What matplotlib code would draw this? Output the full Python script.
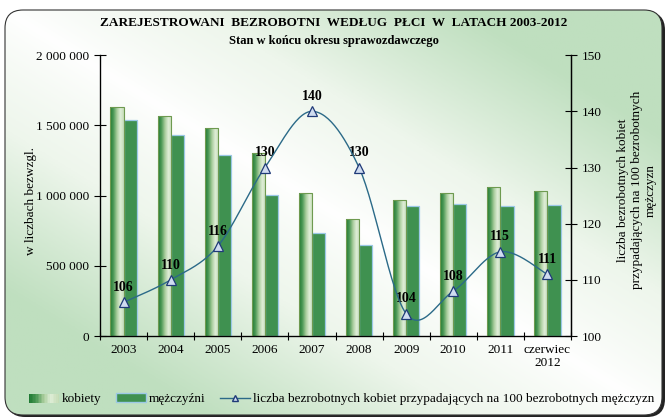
import numpy as np
import matplotlib.pyplot as plt
from matplotlib.patches import FancyBboxPatch, Rectangle
from matplotlib.lines import Line2D
from matplotlib.legend_handler import HandlerBase
from matplotlib.ticker import FuncFormatter
from matplotlib.colors import LinearSegmentedColormap

plt.rcParams['font.family'] = ['Liberation Serif', 'DejaVu Serif']

# Dane
lata = ['2003', '2004', '2005', '2006', '2007', '2008', '2009', '2010', '2011', 'czerwiec\n2012']
kobiety = [1630000, 1566000, 1480000, 1302000, 1018000, 833000, 968000, 1018000, 1060000, 1032000]
mezczyzni = [1537000, 1430000, 1288000, 1003000, 733000, 648000, 925000, 940000, 925000, 932000]
wskaznik = [106, 110, 116, 130, 140, 130, 104, 108, 115, 111]

grad_cmap = LinearSegmentedColormap.from_list('kob', ['#1f7a33', '#4f9a58', '#a9cd9c', '#dfeed8', '#c5dcb6'])
men_color = '#3f9150'
men_edge = '#9cc8e6'
line_color = '#2b6a88'


def catmull_rom(x, y, n=30):
    # wygladzenie linii (jak "wygladzona linia" w Excelu)
    px = np.concatenate([[x[0]], x, [x[-1]]])
    py = np.concatenate([[y[0]], y, [y[-1]]])
    xs, ys = [], []
    t = np.linspace(0, 1, n)
    for i in range(1, len(px) - 2):
        p0, p1, p2, p3 = [np.array([px[j], py[j]], dtype=float) for j in range(i - 1, i + 3)]
        c1 = p1 + (p2 - p0) / 6
        c2 = p2 - (p3 - p1) / 6
        for tt in t:
            b = ((1 - tt) ** 3) * p1 + 3 * ((1 - tt) ** 2) * tt * c1 + 3 * (1 - tt) * tt ** 2 * c2 + tt ** 3 * p2
            xs.append(b[0])
            ys.append(b[1])
    return np.array(xs), np.array(ys)


fig = plt.figure(figsize=(6.67, 4.18), dpi=100)

# tlo z gradientem i zaokraglona ramka
bg = fig.add_axes([0, 0, 1, 1])
bg.set_xlim(0, 667)
bg.set_ylim(0, 418)
bg.axis('off')
gx, gy = np.meshgrid(np.linspace(0, 1, 300), np.linspace(0, 1, 200))
u = np.abs((gx - 0.5) * 1.0 - (gy - 0.5) * 1.0)
u = np.clip(u / 0.7, 0, 1) ** 0.8
bg_cmap = LinearSegmentedColormap.from_list('bg', ['#ffffff', '#eef6ec', '#bfdfbf'])
shadow = FancyBboxPatch((7, 1), 658, 405, boxstyle='round,pad=0,rounding_size=18',
                        facecolor='#222222', edgecolor='none')
bg.add_patch(shadow)
box = FancyBboxPatch((5, 3), 657, 405, boxstyle='round,pad=0,rounding_size=18',
                     facecolor='none', edgecolor='#333333', linewidth=0.8, zorder=3)
im = bg.imshow(u, cmap=bg_cmap, extent=[5, 662, 3, 408], origin='upper', aspect='auto', zorder=2)
clip = FancyBboxPatch((5, 3), 657, 405, boxstyle='round,pad=0,rounding_size=18',
                      facecolor='none', edgecolor='none', transform=bg.transData)
bg.add_patch(clip)
im.set_clip_path(clip)
bg.add_patch(box)

ax = fig.add_axes([0.150, 0.196, 0.706, 0.672])
ax.patch.set_alpha(0)
x = np.arange(len(lata))
w = 0.28

ax.set_xlim(-0.5, len(lata) - 0.5)
ax.set_ylim(0, 2000000)
ax.set_autoscale_on(False)

bars_k = ax.bar(x - w / 2, kobiety, w, facecolor='none', edgecolor='#6e9a50', linewidth=0.8, zorder=3)
grad = np.linspace(0, 1, 64).reshape(1, -1)
for b in bars_k:
    gi = ax.imshow(grad, cmap=grad_cmap, aspect='auto', zorder=2,
                   extent=[b.get_x(), b.get_x() + b.get_width(), 0, b.get_height()])
    gi.set_clip_path(b)
ax.bar(x + w / 2, mezczyzni, w, color=men_color, edgecolor=men_edge, linewidth=0.9, zorder=2)

ax.set_xticks(x)
ax.set_xticklabels(lata, fontsize=9.5, linespacing=1.1)
ax.set_xticks(np.arange(-0.5, len(lata), 1), minor=True)
ax.tick_params(axis='x', which='major', length=0, pad=6)
ax.tick_params(axis='x', which='minor', length=6, direction='inout', width=0.8)
ax.set_yticks([0, 500000, 1000000, 1500000, 2000000])
ax.yaxis.set_major_formatter(FuncFormatter(lambda v, p: f'{int(v):,}'.replace(',', ' ')))
ax.tick_params(axis='y', length=8, direction='inout', width=0.8, labelsize=9.5, pad=4)
ax.spines['top'].set_visible(False)
for s in ['left', 'right', 'bottom']:
    ax.spines[s].set_linewidth(0.9)
ax.set_ylabel('w liczbach bezwzgl.', fontsize=9.5)
ax.yaxis.set_label_coords(-0.133, 0.48)

ax2 = ax.twinx()
ax2.set_ylim(100, 150)
ax2.set_xlim(-0.5, len(lata) - 0.5)
sx, sy = catmull_rom(x, np.array(wskaznik, dtype=float))
ax2.plot(sx, sy, color=line_color, linewidth=1.0, zorder=4)
ax2.plot(x, wskaznik, linestyle='none', marker='^', markersize=6.5,
         markerfacecolor='#cfdcf0', markeredgecolor='#1f3a78', markeredgewidth=0.9, zorder=5)
for xi, v in zip(x, wskaznik):
    ax2.annotate(f'{v}', (xi, v), xytext=(0, 6), textcoords='offset points',
                 ha='center', va='bottom', fontsize=10, fontweight='bold')
ax2.set_yticks([100, 110, 120, 130, 140, 150])
ax2.tick_params(axis='y', length=8, direction='inout', width=0.8, labelsize=9.5, pad=4)
ax2.spines['top'].set_visible(False)
ax2.spines['right'].set_linewidth(0.9)
ax2.set_ylabel('liczba bezrobotnych kobiet\nprzypadających na 100 bezrobotnych\nmężczyzn',
               fontsize=9.5, linespacing=1.2)
ax2.yaxis.set_label_coords(1.098, 0.52)

fig.text(0.5, 0.944, 'ZAREJESTROWANI  BEZROBOTNI  WEDŁUG  PŁCI  W  LATACH 2003-2012',
         ha='center', va='center', fontsize=9.5, fontweight='bold')
fig.text(0.5, 0.902, 'Stan w końcu okresu sprawozdawczego',
         ha='center', va='center', fontsize=9, fontweight='bold')


class GradHandler(HandlerBase):
    def create_artists(self, legend, orig, xd, yd, width, height, fontsize, trans):
        arts = []
        n = 20
        for i in range(n):
            r = Rectangle((xd + width * i / n, yd), width / n + 0.3, height,
                          facecolor=grad_cmap(i / (n - 1)), edgecolor='none', transform=trans)
            arts.append(r)
        return arts


h_k = Rectangle((0, 0), 1, 1)
h_m = Rectangle((0, 0), 1, 1, facecolor=men_color, edgecolor=men_edge)
h_l = Line2D([], [], color=line_color, linewidth=1.0, marker='^', markersize=5,
             markerfacecolor='#cfdcf0', markeredgecolor='#1f3a78')
fig.legend([h_k, h_m, h_l],
           ['kobiety', 'mężczyźni', 'liczba bezrobotnych kobiet przypadających na 100 bezrobotnych mężczyzn'],
           handler_map={h_k: GradHandler()}, loc='center', bbox_to_anchor=(0.512, 0.045),
           ncol=3, frameon=False, fontsize=9.5, handlelength=2.3, handleheight=0.6,
           handletextpad=0.2, columnspacing=1.1)

fig.savefig('out.png', dpi=100)
